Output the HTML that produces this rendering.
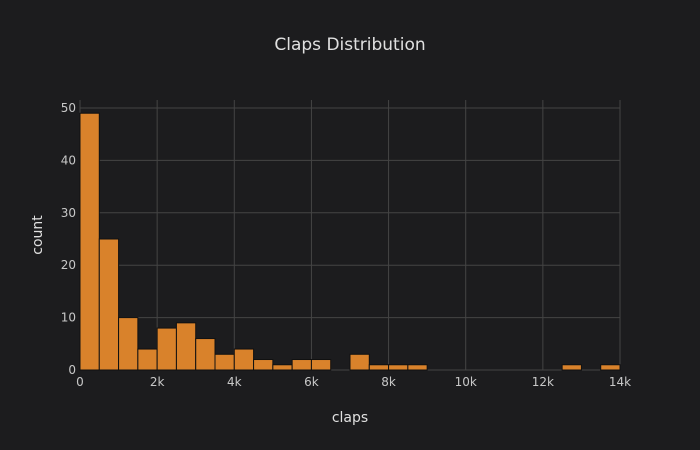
<!DOCTYPE html>
<html><head><meta charset="utf-8"><style>
body{margin:0;background:#1c1c1e;}
svg{display:block;font-family:"DejaVu Sans","Liberation Sans",sans-serif;}
</style></head><body>
<svg id="chart" width="700" height="450">
<rect width="700" height="450" fill="#1c1c1e"/>
<g id="grid"></g><g id="bars"></g><g id="axes"></g>
<text x="350" y="50" text-anchor="middle" fill="#e0e0e0" font-size="17">Claps Distribution</text>
<text x="350" y="422" text-anchor="middle" fill="#e0e0e0" font-size="14">claps</text>
<text x="42" y="235" text-anchor="middle" fill="#e0e0e0" font-size="14" transform="rotate(-90 42 235)">count</text>
</svg>
<script>
const binStarts=[0,500,1000,1500,2000,2500,3000,3500,4000,4500,5000,5500,6000,6500,7000,7500,8000,8500,9000,9500,10000,10500,11000,11500,12000,12500,13000,13500];
const counts=[49,25,10,4,8,9,6,3,4,2,1,2,2,0,3,1,1,1,0,0,0,0,0,0,0,1,0,1];
const binWidth=500;
const xTicks=[0,2000,4000,6000,8000,10000,12000,14000];
const xTickLabels=["0","2k","4k","6k","8k","10k","12k","14k"];
const yTicks=[0,10,20,30,40,50];
const NS="http://www.w3.org/2000/svg";
const X0=80,X1=620,Y0=370,Y1=108;
const xs=v=>X0+(v/14000)*(X1-X0);
const ys=v=>Y0-(v/50)*(Y0-Y1);
const grid=document.getElementById('grid'),bars=document.getElementById('bars'),axes=document.getElementById('axes');
function mk(tag,attrs,parent){const e=document.createElementNS(NS,tag);for(const k in attrs)e.setAttribute(k,attrs[k]);parent.appendChild(e);return e;}
yTicks.forEach(t=>{
 const l=mk('line',{x1:X0,x2:X1,y1:ys(t),y2:ys(t),stroke:'#444','stroke-width':1},grid);
 
 
 const tx=mk('text',{x:X0-4,y:ys(t)+4,'text-anchor':'end',fill:'#c8c8c8','font-size':12},axes);
 tx.textContent=t;
 
 
});
xTicks.forEach((t,i)=>{
 const l=mk('line',{x1:xs(t),x2:xs(t),y1:Y1-8,y2:Y0,stroke:'#444','stroke-width':1},grid);
 
 
 const tx=mk('text',{x:xs(t),y:Y0+16,'text-anchor':'middle',fill:'#c8c8c8','font-size':12},axes);
 tx.textContent=xTickLabels[i];
 
 
});
binStarts.forEach((b,i)=>{
 const x=xs(b),w=xs(b+binWidth)-x,y=ys(counts[i]);
 const r=mk('rect',{x:x,y:y,width:w,height:Y0-y,fill:'#d9822b',stroke:'#111','stroke-width':1},bars);
 
 
});
</script>
</body></html>
